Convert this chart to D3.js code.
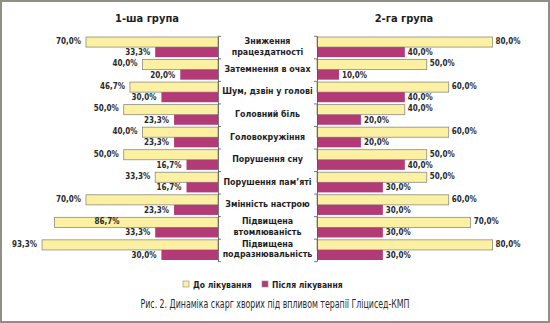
<!DOCTYPE html>
<html><head><meta charset="utf-8">
<script src="https://cdn.jsdelivr.net/npm/d3@7"></script>
<style>
html,body{margin:0;padding:0;background:#fff;}
svg{display:block;}
.cond{font-family:"DejaVu Sans Condensed","DejaVu Sans",sans-serif;font-stretch:condensed;}
</style></head>
<body><svg id="c" width="550" height="323"></svg>
<script>
const categories = [
  ["Зниження","працездатності"],
  ["Затемнення в очах"],
  ["Шум, дзвін у голові"],
  ["Головний  біль"],
  ["Головокружіння"],
  ["Порушення сну"],
  ["Порушення пам’яті"],
  ["Змінність настрою"],
  ["Підвищена","втомлюваність"],
  ["Підвищена","подразнювальність"]
];
const group1Before = [70.0, 40.0, 46.7, 50.0, 40.0, 50.0, 33.3, 70.0, 86.7, 93.3];
const group1After  = [33.3, 20.0, 30.0, 23.3, 23.3, 16.7, 16.7, 23.3, 33.3, 30.0];
const group2Before = [80.0, 50.0, 60.0, 40.0, 60.0, 50.0, 50.0, 60.0, 70.0, 80.0];
const group2After  = [40.0, 10.0, 40.0, 20.0, 20.0, 40.0, 30.0, 30.0, 30.0, 30.0];
const groupTitles = ["1-ша група", "2-га група"];
const seriesNames = ["До лікування", "Після лікування"];
const caption = "Рис. 2. Динаміка скарг хворих під впливом терапії Гліцисед-КМП";

const colors = {before:"#fcf0a2", after:"#b23a77"};
const svg = d3.select("#c");
svg.append("rect").attr("x",1).attr("y",1).attr("width",548).attr("height",321)
  .attr("fill","#fff").attr("stroke","#908e86").attr("stroke-width",2);

const idx = d3.range(categories.length);
const y = d3.scaleBand().domain(idx).range([35.8, 261.2]).padding(0);
const ySub = d3.scaleBand().domain(["before","after"]).range([1.2, y.bandwidth()-1.2]);
const yEdge = d3.scaleLinear().domain([0, categories.length]).range([35.8, 261.2]);

const xL = d3.scaleLinear().domain([0,100]).range([218, 29.4]);
const xR = d3.scaleLinear().domain([0,100]).range([317, 536.5]);
const fmt = v => d3.format(".1f")(v).replace(".", ",") + "%";

function panel(xs, before, after, side) {
  const g = svg.append("g");
  const series = [["before", before], ["after", after]];
  series.forEach(([key, vals]) => {
    g.selectAll(null).data(vals).enter().append("rect")
      .attr("x", d => Math.min(xs(0), xs(d)))
      .attr("y", (d,i) => y(i) + ySub(key))
      .attr("width", d => Math.abs(xs(d) - xs(0)))
      .attr("height", ySub.bandwidth())
      .attr("fill", colors[key])
      .attr("stroke", key === "before" ? "#8e8c80" : "none")
      .attr("stroke-width", 0.8);
    g.selectAll(null).data(vals).enter().append("text")
      .attr("class","cond")
      .attr("x", (d,i) => {
        if (side === "left") {
          if (key === "before" && i === 8) return xs(d) + 65;
          return xs(d) - 5;
        }
        return xs(d) + 3;
      })
      .attr("y", (d,i) => y(i) + ySub(key) + ySub.bandwidth()/2 + (key==="before" ? 1.8 : 3))
      .attr("text-anchor", side === "left" ? "end" : "start")
      .attr("font-size", "8px").attr("font-weight","bold").attr("fill","#2a2a2a")
      .text(d => fmt(d));
  });
  const axis = (side === "left" ? d3.axisRight(yEdge) : d3.axisLeft(yEdge))
    .tickValues(d3.range(categories.length+1)).tickSize(3).tickSizeOuter(0).tickFormat("");
  const ag = svg.append("g").attr("transform", `translate(${xs(0)},0)`).call(axis);
  ag.selectAll("path,line").attr("stroke","#555").attr("stroke-width",0.8);
}
panel(xL, group1Before, group1After, "left");
panel(xR, group2Before, group2After, "right");

// category labels
const cx = (218 + 317) / 2;
categories.forEach((lines, i) => {
  const t = svg.append("text").attr("class","cond")
    .attr("x", cx).attr("text-anchor","middle")
    .attr("font-size","8.8px").attr("font-weight","bold").attr("fill","#1e1e1e");
  const c = y(i) + y.bandwidth()/2;
  const n = lines.length;
  lines.forEach((ln, k) => {
    t.append("tspan").attr("x", cx)
      .attr("y", c + (k - (n-1)/2) * 10.5 + 2.3)
      .text(ln);
  });
});

// titles
[[147, groupTitles[0]], [404, groupTitles[1]]].forEach(([x, s]) => {
  svg.append("text").attr("class","cond").attr("x", x).attr("y", 22)
    .attr("text-anchor","middle").attr("font-size","11px").attr("font-weight","bold")
    .attr("fill","#1e1e1e").text(s);
});

// legend
const legX = [183, 262];
seriesNames.forEach((s, i) => {
  svg.append("rect").attr("x", legX[i]).attr("y", 281).attr("width", 6).attr("height", 6)
    .attr("fill", i===0 ? colors.before : colors.after)
    .attr("stroke", "#8e8c80").attr("stroke-width", 0.6);
  svg.append("text").attr("class","cond").attr("x", legX[i] + 10).attr("y", 287.5)
    .attr("font-size","8.5px").attr("font-weight","bold").attr("fill","#1e1e1e").text(s);
});

// caption
const cap = svg.append("text").attr("x", 275).attr("y", 307.5)
  .attr("text-anchor","middle")
  .attr("font-family","'Liberation Sans Narrow','DejaVu Sans Condensed','DejaVu Sans',sans-serif")
  .attr("font-size","12px").attr("fill","#2a2a2a").text(caption);
const L = cap.node().getComputedTextLength();
if (Math.abs(L - 269) > 3) cap.attr("textLength", 269).attr("lengthAdjust","spacingAndGlyphs");
</script></body></html>
